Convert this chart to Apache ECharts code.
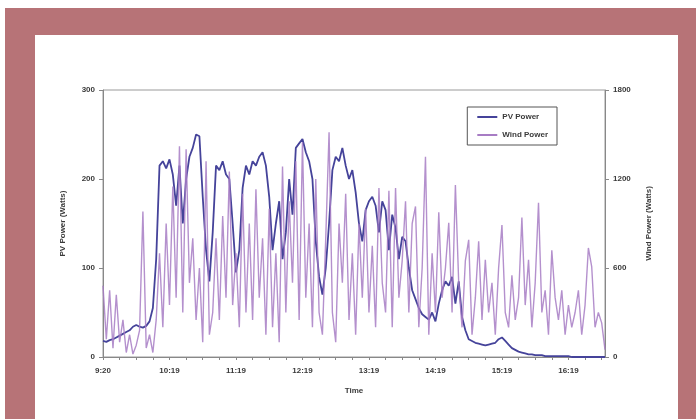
<!DOCTYPE html>
<html><head><meta charset="utf-8">
<script src="https://cdn.jsdelivr.net/npm/echarts@6/dist/echarts.min.js"></script>
<style>
html,body{margin:0;padding:0;width:696px;height:419px;overflow:hidden;background:#fff;}
#frame{position:absolute;left:5px;top:8px;width:691px;height:420px;background:#b77377;}
#panel{position:absolute;left:35px;top:35px;width:643px;height:400px;background:#fff;}
#chart{position:absolute;left:0;top:0;width:696px;height:419px;}
</style></head>
<body>
<div id="frame"></div><div id="panel"></div>
<div id="chart"></div>
<script>
// Tick labels shown every 20 samples (3-minute samples)
const tickLabels = ['9:20','10:19','11:19','12:19','13:19','14:19','15:19','16:19'];
const leftTicks = [0,100,200,300];
const rightTicks = [0,600,1200,1800];

// PV Power (Watts), left axis
const pvPower = [18,17,19,20,22,24,26,28,30,34,36,34,33,35,40,
 55,110,215,220,212,222,205,170,215,150,200,225,235,250,248,
 180,120,85,140,215,210,220,205,200,150,95,120,190,215,205,
 220,215,225,230,215,180,120,150,175,110,140,200,160,235,240,
 245,230,220,200,130,90,70,100,150,210,225,220,235,215,200,
 210,185,150,130,165,175,180,170,140,175,165,120,160,145,110,
 135,130,100,75,65,55,48,45,42,50,40,60,75,85,80,
 90,60,85,45,30,20,18,16,15,14,13,14,15,16,20,
 22,18,14,10,8,6,5,4,3,3,2,2,2,1,1,
 1,1,1,1,1,1,0,0,0,0,0,0,0,0,0,
 0,0];

// Wind Power (Watts), right axis
const windPower = [480,120,450,60,420,100,250,30,150,20,80,180,980,60,150,
 30,250,700,200,900,350,1150,400,1420,300,1400,500,800,250,600,
 100,1320,150,300,800,250,950,400,1250,350,700,200,1100,300,900,
 250,1130,400,800,150,1000,200,700,100,1285,300,1050,500,1320,250,
 1450,400,900,200,1200,300,150,800,1515,300,100,900,500,1100,250,
 700,150,900,400,1000,300,750,200,1140,500,300,1120,200,1140,400,
 650,1050,300,900,1015,200,600,1350,150,700,300,975,400,600,905,
 300,1160,500,200,650,790,150,400,780,250,655,300,500,150,600,
 890,300,200,550,250,400,940,350,655,200,500,1040,300,450,150,
 720,400,250,450,150,350,200,300,450,150,350,735,610,200,300,
 230,50];

const categories = windPower.map((_, i) => String(i));
const font = 'Liberation Sans, Arial, sans-serif';
const txt = {fontFamily:font,fontSize:8,fontWeight:'bold',color:'#3a3a3a'};
const chart = echarts.init(document.getElementById('chart'), null, {renderer:'canvas'});
chart.setOption({
  animation:false,
  backgroundColor:'transparent',
  grid:{left:103,right:91,top:90,bottom:62,show:true,borderColor:'#9a9a9a',borderWidth:1,backgroundColor:'transparent'},
  legend:{
    right:696-557, top:107, orient:'vertical', itemGap:10,
    itemWidth:20, itemHeight:2, padding:[6,9,6,10],
    borderColor:'#555', borderWidth:1, backgroundColor:'#fff',
    textStyle:Object.assign({}, txt),
    data:[{name:'PV Power',icon:'rect'},{name:'Wind Power',icon:'rect'}]
  },
  xAxis:{
    type:'category', data:categories, boundaryGap:false,
    name:'Time', nameLocation:'middle', nameGap:30,
    nameTextStyle:Object.assign({}, txt),
    axisLine:{lineStyle:{color:'#888'}},
    axisTick:{interval:4,length:3,lineStyle:{color:'#888'}},
    axisLabel:Object.assign({interval:19,margin:10,
      formatter:(v)=>{const i=+v; return (i%20===0 && tickLabels[i/20]) ? tickLabels[i/20] : '';}}, txt),
    splitLine:{show:false}
  },
  yAxis:[
    {type:'value',min:leftTicks[0],max:leftTicks[3],interval:100,position:'left',
     name:'PV Power (Watts)',nameLocation:'middle',nameGap:36,
     nameTextStyle:Object.assign({}, txt),
     axisLine:{show:true,lineStyle:{color:'#888'}},
     axisTick:{show:true,length:4,lineStyle:{color:'#888'}},
     axisLabel:Object.assign({margin:8,formatter:(v)=>String(v)}, txt),
     splitLine:{show:false}},
    {type:'value',min:rightTicks[0],max:rightTicks[3],interval:600,position:'right',
     name:'Wind Power (Watts)',nameLocation:'middle',nameGap:40,
     nameTextStyle:Object.assign({}, txt),
     axisLine:{show:true,lineStyle:{color:'#888'}},
     axisTick:{show:true,length:4,lineStyle:{color:'#888'}},
     axisLabel:Object.assign({margin:8,formatter:(v)=>String(v)}, txt),
     splitLine:{show:false}}
  ],
  series:[
    {name:'PV Power',type:'line',yAxisIndex:0,data:pvPower,showSymbol:false,
     lineStyle:{color:'#45439a',width:1.8},itemStyle:{color:'#45439a'},z:2},
    {name:'Wind Power',type:'line',yAxisIndex:1,data:windPower,showSymbol:false,
     lineStyle:{color:'#a77cc4',width:1.4,opacity:0.85},itemStyle:{color:'#a77cc4'},z:3}
  ]
});
</script>
</body></html>
